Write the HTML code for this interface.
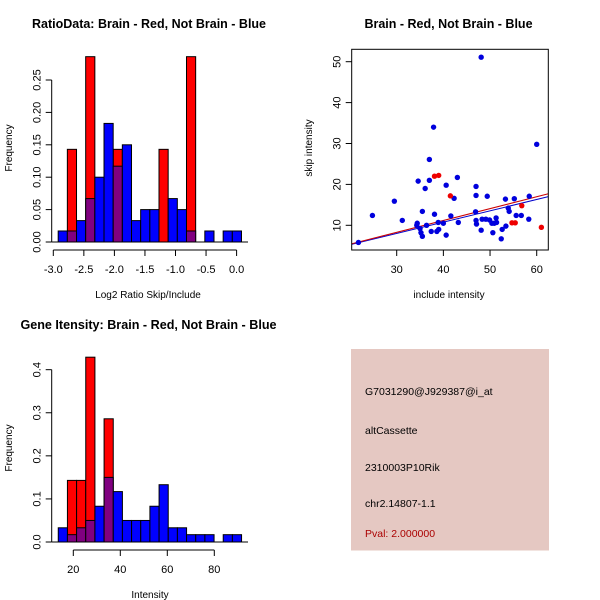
<!DOCTYPE html>
<html><head><meta charset="utf-8"><style>
html,body{margin:0;padding:0;background:#fff;}
svg{display:block;font-family:"Liberation Sans",sans-serif;}
</style></head><body>
<svg id="s" width="600" height="600" viewBox="0 0 600 600">
<rect x="0" y="0" width="600" height="600" fill="#fff"/>
</svg>
<script>
// ---- Ratio histogram data ----
const ratioBinStart = -2.92;
const ratioBinWidth = 0.15;
const ratioBlue = [0.017,0.017,0.033,0.067,0.10,0.183,0.117,0.15,0.033,0.05,0.05,0,0.067,0.05,0.017,0,0.017,0,0.017,0.017];
const ratioRed = [0,0.143,0,0.286,0,0,0.143,0,0,0,0,0.143,0,0,0.286,0,0,0,0,0];
const ratioXTicks = [-3.0,-2.5,-2.0,-1.5,-1.0,-0.5,0.0];
const ratioXLabels = ["-3.0","-2.5","-2.0","-1.5","-1.0","-0.5","0.0"];
const ratioYTicks = [0,0.05,0.10,0.15,0.20,0.25];
const ratioYLabels = ["0.00","0.05","0.10","0.15","0.20","0.25"];
// ---- Intensity histogram data ----
const intBinStart = 13.6;
const intBinWidth = 3.9;
const intBlue = [0.033,0.017,0.033,0.05,0.083,0.15,0.117,0.05,0.05,0.05,0.083,0.133,0.033,0.033,0.017,0.017,0.017,0,0.017,0.017];
const intRed = [0,0.143,0.143,0.429,0,0.286,0,0,0,0,0,0,0,0,0,0,0,0,0,0];
const intXTicks = [20,40,60,80];
const intYTicks = [0,0.1,0.2,0.3,0.4];
const intYLabels = ["0.0","0.1","0.2","0.3","0.4"];
// ---- Scatter data ----
const blueX = [21.8,24.8,29.5,31.2,34.3,34.4,34.6,35,35.2,35.5,35.5,36.1,36.4,37,37,37.4,37.9,38.1,38.6,38.9,39,40,40.6,40.6,41.6,42.3,43,43.2,47,47,46.9,47,47.1,48.1,48.1,48.3,49.1,49.4,49.9,50.4,50.6,50.9,51.3,51.4,52.4,52.6,53.3,53.4,53.9,54.1,55.2,55.6,56.7,58.3,58.4,60];
const blueY = [5.8,12.4,15.9,11.2,10,10.5,20.8,9.2,8.2,7.3,13.4,19,10,26.1,21,8.5,34,12.7,8.5,10.7,9,10.5,19.8,7.6,12.3,16.6,21.7,10.7,19.5,17.3,13.3,11.2,10.3,8.8,51.1,11.5,11.5,17.1,11.3,10.5,8.2,10.5,11.8,10.7,6.7,9,16.4,9.8,14.2,13.4,16.5,12.4,12.4,11.5,17.1,29.8];
const redX = [38.1,39,41.5,54.7,55.4,56.8,61];
const redY = [22,22.2,17.2,10.6,10.6,14.8,9.5];
const fitLines = [{color:"#0000cc",intercept:-0.29,slope:0.2767},{color:"#cc0000",intercept:-0.41,slope:0.2898}];
const scXTicks = [30,40,50,60];
const scYTicks = [10,20,30,40,50];

const S = document.getElementById('s');
const NS = "http://www.w3.org/2000/svg";
function mk(tag, attrs, parent){const e=document.createElementNS(NS,tag);for(const k in attrs)e.setAttribute(k,attrs[k]);(parent||S).appendChild(e);return e;}
function txt(x,y,s,opts,parent){const e=mk('text',Object.assign({x:x,y:y,'font-size':11,'text-anchor':'middle',fill:'#000'},opts||{}),parent);e.textContent=s;return e;}

function hist(g, sx, sy, start, w, blue, red, x0, x1){
  for(let i=0;i<red.length;i++){ if(red[i]>0){
    const r=mk('rect',{x:sx(start+i*w),y:sy(red[i]),width:sx(start+(i+1)*w)-sx(start+i*w),height:sy(0)-sy(red[i]),fill:'#ff0000',stroke:'#000','stroke-width':1},g);
    
    
  }}
  for(let i=0;i<blue.length;i++){ if(blue[i]>0){
    const col = red[i]>0 ? '#800080' : '#0000ff';
    const r=mk('rect',{x:sx(start+i*w),y:sy(blue[i]),width:sx(start+(i+1)*w)-sx(start+i*w),height:sy(0)-sy(blue[i]),fill:col,stroke:'#000','stroke-width':1},g);
    
    
  }}
  mk('line',{x1:x0,y1:sy(0),x2:x1,y2:sy(0),stroke:'#000','stroke-width':1},g);
}
function yaxis(g, x, sy, ticks, labels){
  mk('line',{x1:x,y1:sy(ticks[0]),x2:x,y2:sy(ticks[ticks.length-1]),stroke:'#000'},g);
  ticks.forEach((t,i)=>{const y=sy(t);mk('line',{x1:x-6,y1:y,x2:x,y2:y,stroke:'#000'},g);
    txt(x-11,y,labels[i],{transform:'rotate(-90 '+(x-11)+' '+y+')'},g);});
}
function xaxis(g, y, sx, ticks, labels){
  mk('line',{x1:sx(ticks[0]),y1:y,x2:sx(ticks[ticks.length-1]),y2:y,stroke:'#000'},g);
  ticks.forEach((t,i)=>{const x=sx(t);mk('line',{x1:x,y1:y,x2:x,y2:y+6,stroke:'#000'},g);txt(x,y+23,labels[i],{},g);});
}

// Panel 1
{
  const g=mk('g',{});  
  const sx=v=>53.3+(v+3)*61.1, sy=v=>242-v*648;
  hist(g,sx,sy,ratioBinStart,ratioBinWidth,ratioBlue,ratioRed,51.7,248);
  yaxis(g,51.7,sy,ratioYTicks,ratioYLabels);
  xaxis(g,250,sx,ratioXTicks,ratioXLabels);
  const t=txt(149,28,'RatioData: Brain - Red, Not Brain - Blue',{'font-weight':'bold','font-size':12.5},g);  
  const xl=txt(148,298,'Log2 Ratio Skip/Include',{'font-size':10},g);  
  const yl=txt(12,148,'Frequency',{'font-size':10,transform:'rotate(-90 12 148)'},g);  
}
// Panel 2
{
  const g=mk('g',{});  
  const sx=v=>396.7+(v-30)*4.667, sy=v=>225.3-(v-10)*4.09;
  const cp=mk('clipPath',{id:'cp'},g); mk('rect',{x:351.7,y:49.3,width:196.6,height:200.7},cp);
  fitLines.forEach((L,i)=>{const xa=20.4,xb=62.5;
    const l=mk('line',{x1:sx(xa),y1:sy(L.intercept+L.slope*xa),x2:sx(xb),y2:sy(L.intercept+L.slope*xb),stroke:L.color,'stroke-width':1,'clip-path':'url(#cp)'},g);
     });
  blueX.forEach((x,i)=>{const c=mk('circle',{cx:sx(x),cy:sy(blueY[i]),r:2.7,fill:'#0000dd'},g);
     });
  redX.forEach((x,i)=>{const c=mk('circle',{cx:sx(x),cy:sy(redY[i]),r:2.7,fill:'#ee0000'},g);
     });
  mk('rect',{x:351.7,y:49.3,width:196.6,height:200.7,fill:'none',stroke:'#000'},g);
  scYTicks.forEach(t=>{const y=sy(t);mk('line',{x1:345.7,y1:y,x2:351.7,y2:y,stroke:'#000'},g);txt(340.7,y,String(t),{transform:'rotate(-90 340.7 '+y+')'},g);});
  scXTicks.forEach(t=>{const x=sx(t);mk('line',{x1:x,y1:250,x2:x,y2:256,stroke:'#000'},g);txt(x,273,String(t),{},g);});
  const t=txt(448.5,28,'Brain - Red, Not Brain - Blue',{'font-weight':'bold','font-size':12.5},g);  
  const xl=txt(449,298,'include intensity',{'font-size':10},g);  
  const yl=txt(312,148,'skip intensity',{'font-size':10,transform:'rotate(-90 312 148)'},g);  
}
// Panel 3
{
  const g=mk('g',{});  
  const sx=v=>73.3+(v-20)*2.35, sy=v=>542-v*430.8;
  hist(g,sx,sy,intBinStart,intBinWidth,intBlue,intRed,51.7,248);
  yaxis(g,51.7,sy,intYTicks,intYLabels);
  xaxis(g,550,sx,intXTicks,intXTicks.map(String));
  const t=txt(148.5,329,'Gene Itensity: Brain - Red, Not Brain - Blue',{'font-weight':'bold','font-size':12.6},g);  
  const xl=txt(150,598,'Intensity',{'font-size':10},g);  
  const yl=txt(12,448,'Frequency',{'font-size':10,transform:'rotate(-90 12 448)'},g);  
}
// Panel 4
{
  const g=mk('g',{});  
  mk('rect',{x:351,y:349,width:198,height:201.5,fill:'#e5c8c2'},g);
  const lines=[['G7031290@J929387@i_at',395,'#000'],['altCassette',434,'#000'],['2310003P10Rik',471,'#000'],['chr2.14807-1.1',507,'#000'],['Pval: 2.000000',537,'#aa0000']];
  lines.forEach(L=>{const e=txt(365,L[1],L[0],{'text-anchor':'start','font-size':10.5,fill:L[2]},g);
     });
}
</script>
</body></html>
